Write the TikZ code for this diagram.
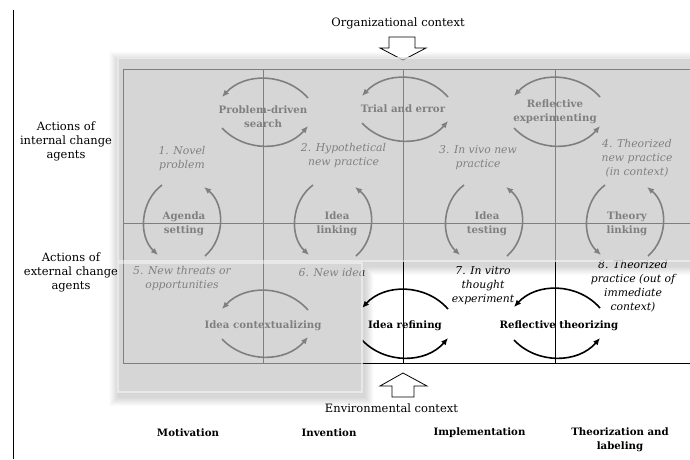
\documentclass[tikz,border=0pt]{standalone}
\usepackage{fontspec}
\setmainfont{DejaVu Serif}
\usetikzlibrary{arrows.meta}

% horizontal loop: two arcs above and below a label, centred on x = #2
% #3 = y of the upper chord, #4 = y of the lower chord (downwards positive)
\newcommand\cycH[4]{%
  \coordinate (#1-a) at ({#2+45},{-#3-1});
  \coordinate (#1-b) at ({#2-41},{-#3});
  \coordinate (#1-c) at ({#2-41},{-#4-2});
  \coordinate (#1-d) at ({#2+45},{-#4});
  \draw[loopln] (#1-a) to[bend right=48] (#1-b);
  \draw[loopln] (#1-c) to[bend right=48] (#1-d);
}
% vertical loop: two arcs left and right of a label, centred on x = #2
\newcommand\cycV[2]{%
  \coordinate (#1-a) at ({#2-21},-185);
  \coordinate (#1-b) at ({#2-25},-255);
  \coordinate (#1-c) at ({#2+22},-256);
  \coordinate (#1-d) at ({#2+21},-187);
  \draw[loopln] (#1-a) to[bend right=50] (#1-b);
  \draw[loopln] (#1-c) to[bend right=50] (#1-d);
}

\definecolor{veil}{gray}{0.76}

\begin{document}
\begin{tikzpicture}[x=1pt,y=1pt,
  txt/.style={font=\fontsize{11.5}{14}\selectfont, align=center, inner sep=0pt},
  actlbl/.style={txt, font=\fontsize{10.2}{14}\selectfont\bfseries},
  statelbl/.style={txt, font=\fontsize{10.8}{14}\selectfont\itshape},
  phaselbl/.style={txt, font=\fontsize{10.2}{14}\selectfont\bfseries},
  gridln/.style={line width=0.8pt, black},
  loopln/.style={line width=1.6pt, black, -{Latex[length=7pt,width=6pt]}},
  blockarrow/.style={draw=black, fill=white, line width=0.8pt, line join=miter}
]
\useasboundingbox (0,0) rectangle (690,-459);
\fill[white] (0,0) rectangle (690,-459);

% soft drop shadow of the highlighted areas, kept outside them
\begin{scope}[even odd rule]
  \clip (-5,5) rectangle (695,-465)
    (117,-57) -- (690,-57) -- (690,-262) -- (363,-262) -- (363,-393) -- (117,-393) -- cycle;
  \foreach \i in {1,...,8}{
    \fill[black, opacity=0.018, nonzero rule]
      ({117-1.1*\i+1.5},{-57+1.1*\i-4}) rectangle ({690+1.1*\i+1.5},{-262-1.1*\i-4})
      ({117-1.1*\i+1.5},{-262+1.1*\i-4}) rectangle ({363+1.1*\i+1.5},{-393-1.1*\i-4});
  }
\end{scope}

% left rule
\draw[line width=0.9pt] (13,-10) -- (13,-459);

% frame of the matrix
\draw[gridln] (123,-69) -- (690,-69);
\draw[gridln] (123,-223) -- (690,-223);
\draw[gridln] (123,-363) -- (690,-363);
\foreach \x in {123,263,403,555}
  \draw[gridln] (\x,-69) -- (\x,-363);

% loops between the states
\cycH{pds}{263}{97}{126}
\cycH{tae}{403}{96}{121}
\cycH{rex}{555}{96}{126}
\cycH{ico}{263}{309}{337}
\cycH{ire}{403}{308}{338}
\cycH{rth}{555}{307}{338}
\cycV{ags}{183}
\cycV{ili}{334}
\cycV{ite}{485}
\cycV{tli}{626}

% loop labels
\node[actlbl] (lpds) at (263,-117) {Problem-driven\\search};
\node[actlbl] (ltae) at (403,-109) {Trial and error};
\node[actlbl] (lrex) at (555,-112) {Reflective\\experimenting};
\node[actlbl] (lags) at (184,-223.5) {Agenda\\setting};
\node[actlbl] (lili) at (337,-223.5) {Idea\\linking};
\node[actlbl] (lite) at (487,-223.5) {Idea\\testing};
\node[actlbl] (ltli) at (627,-223.5) {Theory\\linking};
\node[actlbl] (lico) at (263,-326) {Idea contextualizing};
\node[actlbl] (lire) at (405,-326) {Idea refining};
\node[actlbl] (lrth) at (559,-326) {Reflective theorizing};

% states
\node[statelbl] (s1) at (182,-158.5) {1. Novel\\problem};
\node[statelbl] (s2) at (343.5,-155.5) {2. Hypothetical\\new practice};
\node[statelbl] (s3) at (478,-158) {3. In vivo new\\practice};
\node[statelbl] (s4) at (637,-158.5) {4. Theorized\\new practice\\(in context)};
\node[statelbl] (s5) at (182,-279) {5. New threats or\\opportunities};
\node[statelbl] (s6) at (332,-272) {6. New idea};
\node[statelbl] (s7) at (483,-286) {7. In vitro\\thought\\experiment};
\node[statelbl] (s8) at (633,-286.5) {8. Theorized\\practice (out of\\immediate\\context)};

% row labels
\node[txt] (rowint) at (66,-141) {Actions of\\internal change\\agents};
\node[txt] (rowext) at (71,-272) {Actions of\\external change\\agents};

% contexts
\node[txt] (orgctx) at (398,-23) {Organizational context};
\node[txt] (envctx) at (391.5,-408) {Environmental context};
\draw[blockarrow] (389,-37) -- (415,-37) -- (415,-48) -- (426,-48) -- (403,-60)
  -- (380,-48) -- (389,-48) -- cycle;
\draw[blockarrow] (392,-397) -- (414,-397) -- (414,-386) -- (427,-386) -- (403,-373)
  -- (380,-386) -- (392,-386) -- cycle;

% phases
\node[phaselbl] (ph1) at (188,-433) {Motivation};
\node[phaselbl] (ph2) at (329,-433) {Invention};
\node[phaselbl] (ph3) at (479.5,-433) {Implementation};
\node[phaselbl] (ph4) at (620,-440) {Theorization and\\labeling};

% translucent highlight over the internal and the motivation/invention areas
\fill[veil, opacity=0.66] (117,-57) rectangle (690,-262) (117,-262) rectangle (363,-393);
\draw[white, opacity=0.45, line width=1.6pt]
  (117.8,-57.8) rectangle (692,-261.2)
  (117.8,-262.8) rectangle (362.2,-392.2);
\end{tikzpicture}
\end{document}
